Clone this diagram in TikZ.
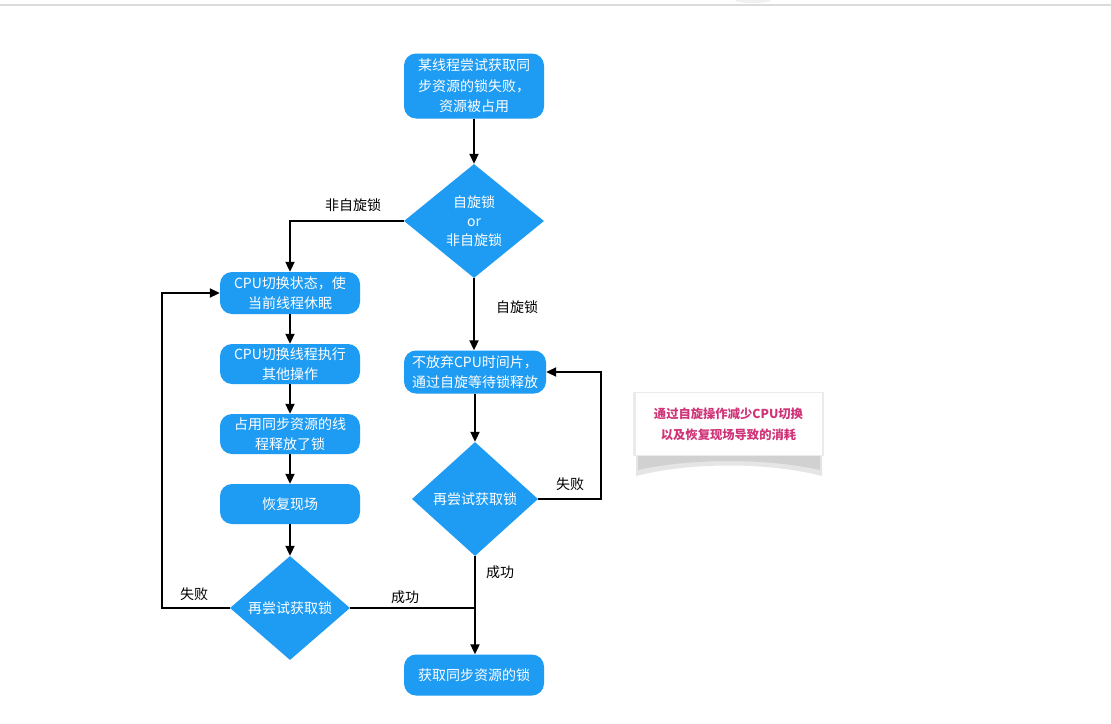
\documentclass[tikz,border=0pt]{standalone}
\usepackage{fontspec}
\setmainfont{Noto Sans CJK SC}
\usetikzlibrary{shapes.geometric,arrows.meta}
\definecolor{flowblue}{RGB}{30,155,242}
\definecolor{notepink}{RGB}{208,52,120}
\tikzset{
  procbox/.style={draw=none,fill=flowblue,rounded corners=12pt,text=white,
    minimum width=140pt,align=center,font=\fontsize{14}{20.5}\selectfont,inner sep=2pt},
  decbox/.style={diamond,draw=none,fill=flowblue,text=white,inner sep=0pt,
    align=center,font=\fontsize{14}{19}\selectfont},
  arr/.style={line width=2pt,-{Triangle[length=10pt,width=9pt]}},
  ln/.style={line width=2pt},
  lbl/.style={font=\fontsize{14}{16}\selectfont,text=black,inner sep=0pt}
}
\begin{document}
\begin{tikzpicture}[x=1pt,y=-1pt]
\useasboundingbox (0,0) rectangle (1111,723);
\fill[white] (0,0) rectangle (1111,723);
\draw[black!14,line width=1.5pt] (0,5) -- (1111,5);
\fill[black!6] (735,0) arc[start angle=180,end angle=360,x radius=18,y radius=-3] -- cycle;

% nodes
\node[procbox,minimum height=65pt] (top) at (474,86) {某线程尝试获取同\\步资源的锁失败，\\资源被占用};
\node[decbox,minimum width=140pt,minimum height=114pt] (d1) at (474,221) {自旋锁\\or\\非自旋锁};

\node[procbox,minimum height=42pt] (a) at (290,293) {CPU切换状态，使\\当前线程休眠};
\node[procbox,minimum height=40pt] (b) at (290,364) {CPU切换线程执行\\其他操作};
\node[procbox,minimum height=40pt] (c) at (290,434) {占用同步资源的线\\程释放了锁};
\node[procbox,minimum height=40pt] (d) at (290,504) {恢复现场};
\node[decbox,minimum width=120pt,minimum height=104pt] (d2) at (290,608) {再尝试获取锁};

\node[procbox,minimum height=43pt,minimum width=142pt] (e) at (475,372) {不放弃CPU时间片，\\通过自旋等待锁释放};
\node[decbox,minimum width=126pt,minimum height=114pt] (d3) at (475,499) {再尝试获取锁};
\node[procbox,minimum height=41pt] (f) at (474,675) {获取同步资源的锁};

% note card
\fill[black!10] (636,440) -- (636,476) .. controls (690,462) and (768,462) .. (822,476) -- (822,440) -- cycle;
\fill[black!18] (638,445) -- (638,470) .. controls (692,458) and (766,458) .. (820,470) -- (820,445) -- cycle;
\fill[black!8] (633,392) rectangle (824,456);
\node[fill=white,minimum width=186pt,minimum height=62pt,inner sep=0pt,align=center,
  text=notepink,font=\bfseries\fontsize{12.3}{21}\selectfont] (note) at (728.5,424)
  {通过自旋操作减少CPU切换\\以及恢复现场导致的消耗};

% coordinates
\coordinate (lx) at (162,608);
\coordinate (rx) at (601,499);

% connectors
\draw[arr] (top.south) -- (d1.north);
\draw[arr] (d1.west) -| (a.north);
\draw[arr] (a.south) -- (b.north);
\draw[arr] (b.south) -- (c.north);
\draw[arr] (c.south) -- (d.north);
\draw[arr] (d.south) -- (d2.north);
\draw[arr] (d2.west) -- (lx) |- (a.west);
\draw[ln] (d2.east) -- (d2.east -| f.north);
\draw[arr] (d1.south) -- (d1.south |- e.north);
\draw[arr] (e.south -| d3.north) -- (d3.north);
\draw[arr] (d3.east) -- (rx) |- (e.east);
\draw[arr] (d3.south) -- (d3.south |- f.north);

% labels
\node[lbl] (l1) at (353,205) {非自旋锁};
\node[lbl] (l2) at (517,307) {自旋锁};
\node[lbl] (l3) at (570,484) {失败};
\node[lbl] (l4) at (500,572) {成功};
\node[lbl] (l5) at (194,594) {失败};
\node[lbl] (l6) at (405,597) {成功};
\end{tikzpicture}
\end{document}
